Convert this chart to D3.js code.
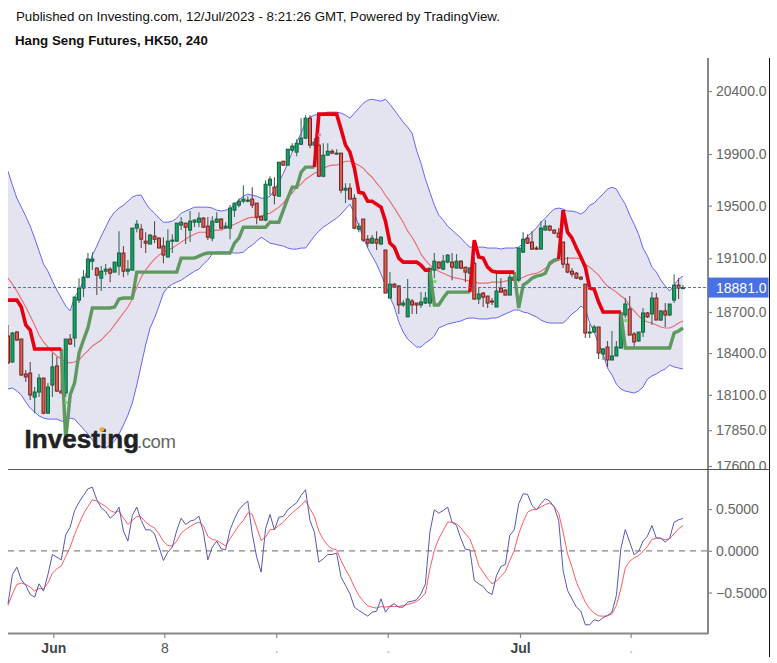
<!DOCTYPE html>
<html><head><meta charset="utf-8">
<style>
html,body{margin:0;padding:0;background:#fff}
svg{display:block}
text{font-family:"Liberation Sans",Arial,sans-serif}
</style>
<script src="https://cdnjs.cloudflare.com/ajax/libs/d3/7.8.5/d3.min.js"></script>
</head><body><svg id="c" width="777" height="663"></svg>
<script>
const _ = null;
const headerLine = "Published on Investing.com, 12/Jul/2023 - 8:21:26 GMT, Powered by TradingView.";
const titleLine = "Hang Seng Futures, HK50, 240";
const priceTicks = [20400,19900,19500,19100,18700,18400,18100,17850,17600];
const oscTicks = [0.5,0,-0.5];
const lastPrice = 18881;
const timeTickBars = [10.2,35.2,60.4,85.5,115.3,140.2];
const timeTickLabels = ["Jun","8",".",".","Jul","."];

const opens = [
18524,18336,18553,18502,18249,18256,18084,18120,18220,17970,
18170,18307,18127,18113,18502,18510,18788,18877,18958,19078,
19026,18951,19003,19018,18996,19041,19139,19003,19011,19328,
19320,19229,19207,19267,19252,19192,19109,19229,19229,19351,
19366,19313,19373,19373,19404,19343,19252,19373,19397,19328,
19328,19465,19504,19534,19534,19550,19519,19419,19389,19657,
19642,19572,19844,19813,19930,19915,19977,20025,20183,19970,
19970,19727,19891,19922,19899,19907,19619,19634,19557,19320,
19397,19244,19214,19244,19207,19162,18803,18906,18892,18752,
18664,18781,18766,18752,18766,18766,19011,19071,19018,19071,
19071,19026,19078,19033,18988,19063,18796,18840,18818,18781,
18737,18877,18862,18825,18958,18936,19146,19252,19222,19177,
19169,19313,19343,19313,19290,19222,19056,19003,18988,18958,
18906,18546,18553,18590,18394,18444,18350,18379,18437,18678,
18722,18539,18488,18553,18693,18686,18803,18641,18708,18678,
18788,18899,18877];
const highs = [
18605,18553,18561,18502,18278,18336,18156,18249,18220,18185,
18401,18372,18336,18502,18539,18810,18951,19011,19139,19146,
19033,19041,19056,19033,19071,19305,19192,19086,19328,19389,
19358,19297,19282,19381,19259,19259,19320,19282,19366,19412,
19366,19458,19397,19450,19412,19412,19419,19450,19404,19373,
19504,19519,19557,19657,19572,19642,19519,19419,19696,19727,
19719,19836,19844,19938,19985,20017,20183,20207,20207,20025,
20033,19985,19985,19938,19938,19907,19673,19673,19588,19366,
19397,19275,19275,19305,19267,19162,18996,18914,18899,18788,
18944,18796,18766,18847,18847,19026,19139,19078,19124,19131,
19139,19131,19086,19033,19033,19109,18884,18847,18818,18803,
18996,18951,18869,19011,18996,19177,19297,19282,19305,19192,
19381,19389,19351,19320,19328,19222,19109,19026,18996,18966,
18906,18612,18605,18590,18437,18488,18561,18488,18693,18803,
18818,18553,18553,18730,18700,18847,18840,18715,18766,18759,
18981,18951,18899];
const lows = [
18321,18329,18488,18235,18192,18063,17970,18084,17963,17970,
18084,18120,18113,18084,18459,18444,18766,18810,18951,19011,
18825,18855,18973,18921,18996,18973,18958,18973,19011,19297,
19177,19139,19207,19214,19177,19063,19109,19139,19222,19313,
19207,19222,19335,19335,19328,19237,19229,19366,19320,19328,
19244,19412,19488,19519,19526,19481,19358,19389,19381,19580,
19511,19572,19813,19813,19915,19883,19970,20017,19946,19798,
19719,19719,19891,19899,19899,19596,19519,19550,19320,19297,
19222,19184,19207,19162,19199,18840,18803,18877,18686,18737,
18664,18686,18686,18730,18759,18737,18951,19018,19011,19063,
18936,19026,19018,18921,18988,18788,18759,18737,18730,18752,
18737,18840,18825,18825,18929,18921,19139,19207,19162,19162,
19169,19313,19305,19282,19259,19026,18988,18958,18944,18936,
18510,18510,18546,18357,18350,18300,18350,18379,18430,18656,
18531,18444,18481,18517,18656,18605,18641,18634,18590,18671,
18766,18796,18869];
const closes = [
18329,18546,18495,18242,18228,18099,18120,18220,17970,18156,
18300,18127,18113,18502,18466,18810,18877,18958,19094,19094,
18973,19003,19018,18988,19071,19139,19003,19018,19328,19358,
19244,19214,19275,19244,19177,19124,19229,19237,19366,19373,
19335,19381,19389,19404,19335,19259,19381,19397,19328,19343,
19481,19519,19534,19550,19542,19504,19412,19389,19665,19704,
19580,19836,19813,19938,19962,19985,20025,20183,19970,19993,
19727,19891,19922,19907,19907,19619,19634,19550,19328,19343,
19237,19214,19252,19214,19259,18840,18906,18884,18752,18766,
18796,18752,18752,18774,18803,19026,19078,19026,19078,19124,
19033,19078,19026,18996,19026,18796,18833,18810,18766,18774,
18855,18847,18825,18958,18936,19177,19244,19214,19169,19169,
19328,19343,19313,19290,19259,19056,18996,18981,18951,18944,
18546,18553,18590,18401,18430,18350,18379,18444,18693,18759,
18531,18481,18553,18693,18664,18803,18641,18708,18678,18759,
18899,18877,18881];

const bandUpper = [
19766,19657,19557,19488,19419,19343,19252,19154,19056,19003,
18929,18862,18803,18744,18708,18810,18862,18929,19026,19124,
19192,19267,19335,19404,19450,19481,19504,19534,19565,19580,
19580,19519,19473,19442,19404,19373,19373,19381,19404,19442,
19458,19473,19488,19488,19488,19488,19481,19465,19458,19465,
19473,19511,19542,19572,19588,19580,19572,19557,19557,19572,
19619,19680,19750,19828,19915,19993,20064,20151,20191,20207,
20215,20223,20231,20231,20231,20223,20207,20183,20223,20262,
20302,20326,20334,20326,20318,20334,20294,20247,20199,20151,
20112,20064,19930,19828,19704,19603,19504,19427,19389,19343,
19313,19282,19252,19214,19184,19184,19184,19184,19177,19177,
19177,19169,19177,19177,19177,19184,19214,19267,19297,19328,
19373,19404,19442,19473,19481,19473,19458,19458,19450,19435,
19458,19504,19519,19557,19588,19627,19642,19627,19565,19511,
19427,19358,19282,19177,19116,19033,18996,18936,18892,18855,
18899,18944,18966];
const bandLower = [
18142,18149,18127,18099,18049,18006,17978,17950,17935,17928,
17928,17928,17914,17914,17935,17928,17893,17858,17823,17781,
17746,17732,17725,17746,17774,17823,17886,17956,18042,18170,
18314,18459,18583,18656,18744,18840,18884,18906,18921,18936,
18958,18981,19003,19018,19056,19086,19131,19146,19146,19146,
19146,19139,19139,19146,19177,19199,19229,19259,19237,19214,
19207,19199,19192,19177,19169,19169,19177,19177,19222,19267,
19305,19335,19358,19381,19404,19435,19473,19511,19442,19343,
19259,19177,19116,19056,18981,18899,18810,18737,18627,18553,
18502,18473,18444,18444,18473,18495,18524,18583,18597,18612,
18619,18627,18634,18649,18656,18656,18649,18649,18649,18656,
18656,18671,18686,18700,18715,18715,18700,18693,18678,18664,
18641,18627,18619,18619,18619,18619,18649,18686,18708,18744,
18722,18619,18553,18466,18394,18292,18242,18177,18142,18127,
18120,18113,18127,18156,18213,18235,18249,18271,18285,18314,
18300,18292,18285];
const bandMiddle = [
18951,18906,18855,18796,18737,18671,18605,18531,18481,18444,
18408,18379,18357,18336,18329,18336,18350,18387,18416,18452,
18473,18495,18531,18561,18605,18649,18693,18737,18796,18884,
18958,19011,19056,19094,19124,19146,19162,19177,19199,19222,
19244,19267,19282,19297,19297,19297,19305,19313,19313,19328,
19343,19358,19373,19389,19404,19412,19404,19419,19435,19442,
19465,19488,19519,19565,19596,19642,19665,19704,19727,19750,
19766,19789,19805,19813,19813,19828,19844,19844,19828,19813,
19789,19750,19719,19673,19634,19580,19534,19481,19427,19373,
19305,19259,19199,19131,19086,19048,19026,19003,18988,18973,
18958,18951,18944,18936,18929,18921,18914,18914,18914,18921,
18921,18921,18929,18936,18936,18944,18958,18973,18981,18988,
19003,19026,19048,19071,19086,19094,19101,19101,19101,19094,
19056,19033,19003,18973,18929,18892,18869,18847,18818,18796,
18744,18708,18671,18641,18627,18619,18605,18590,18583,18583,
18597,18619,18634];

const stopDown = [
18788,18788,18788,18737,18605,18568,18430,18430,18430,18430,18430,18430,18430,
_,_,_,_,_,_,_,_,_,_,_,_,_,_,_,_,_,_,_,_,_,_,_,_,_,_,_,_,_,_,_,_,_,_,_,_,_,_,_,_,_,_,_,_,_,_,_,_,_,_,_,_,_,_,_,_,
19798,20215,20215,20215,20215,20215,20096,19970,19915,19789,19603,19596,19534,19534,19511,19488,19381,19214,19184,19101,19071,19071,19071,19071,19048,19011,19011,
_,_,_,_,_,_,_,_,
18847,19237,19109,19101,19033,19003,18996,18996,18996,18996,18996,
_,_,_,_,_,_,_,_,_,
19094,19465,19297,19252,19177,19109,19033,18877,18869,18774,18700,18700,18700,18700,18700,
_,_,_,_,_,_,_,_,_,_,_,_,_,_];
const stopUp = [
_,_,_,_,_,_,_,_,_,_,_,_,
18430,17781,18099,18185,18401,18495,18583,18730,18730,18730,18730,18730,18737,18796,18803,18803,18803,18996,
18996,18996,18996,18996,18996,18996,18996,18996,18996,19101,19101,19101,19101,19116,19131,19139,19139,19139,19139,19139,19139,
19214,19252,19335,19335,19335,19335,19335,19335,19373,19373,19373,19465,19557,19642,19642,19758,19798,19798,19798,
_,_,_,_,_,_,_,_,_,_,_,_,_,_,_,_,_,_,_,_,_,_,_,_,_,
19011,18752,18752,18803,18847,18847,18847,18847,18847,18847,
_,_,_,_,_,_,_,_,_,
18996,18730,18899,18921,18951,18966,18973,18988,19063,19086,19094,
_,_,_,_,_,_,_,_,_,_,_,_,_,
18700,18437,18437,18437,18437,18437,18437,18437,18437,18437,18437,18437,18546,18561,18583];
const signalBars = [13,96,139,70];
const signalPrices = [18049,18929,18641,20056];
const signalColors = ["#66e066","#66e066","#66e066","#f08080"];

const oscFast = [
-.635,-.283,-.196,-.347,-.415,-.523,-.555,-.395,-.483,-.283,
-.044,-.076,-.108,.192,.283,.483,.583,.663,.743,.762,
.611,.515,.471,.391,.435,.523,.236,.116,.423,.523,
.363,.251,.251,.204,.044,-.116,-.016,.044,.244,.391,
.315,.355,.371,.415,.224,-.108,.044,.116,.024,.012,
.251,.383,.491,.551,.595,.204,-.076,-.255,.263,.435,
.251,.403,.411,.491,.535,.575,.663,.731,.363,.224,
-.136,-.096,-.044,-.044,-.028,-.315,-.415,-.515,-.675,-.715,
-.747,-.782,-.735,-.723,-.575,-.735,-.663,
-.635,-.675,-.675,-.615,-.603,-.587,-.515,-.395,.224,.491,.451,.483,
.523,.343,.303,.144,.016,.012,-.355,-.395,-.427,-.495,-.523,-.295,-.188,-.164,
.184,.251,.563,.683,.675,.543,.491,.563,.623,.595,.523,.363,-.236,-.475,-.575,
-.675,-.723,-.886,-.886,-.826,-.842,-.802,-.774,-.735,-.535,.024,.255,.104,
-.048,-.008,.116,.176,.303,.152,.152,.104,.152,.343,.371,.387];
const oscSlow = [
-.655,-.515,-.403,-.387,-.403,-.435,-.483,-.451,-.455,-.387,
-.267,-.216,-.180,-.068,.044,.196,.323,.443,.531,.611,
.595,.563,.531,.483,.459,.475,.395,.315,.363,.411,
.403,.343,.303,.275,.204,.112,.064,.056,.116,.212,
.255,.291,.323,.343,.303,.172,.136,.124,.092,.060,
.144,.224,.303,.363,.455,.435,.283,.124,.164,.251,
.259,.303,.343,.403,.455,.499,.543,.603,.503,.411,
.236,.136,.064,.024,.012,-.116,-.224,-.315,-.435,-.535,
-.603,-.659,-.675,-.687,-.667,-.675,-.667,
-.667,-.667,-.655,-.643,-.627,-.607,-.567,-.507,-.216,.004,.144,.244,
.343,.343,.323,.275,.204,.144,.004,-.176,-.255,-.335,-.395,-.363,-.307,-.248,
-.116,.004,.204,.343,.463,.491,.495,.523,.555,.571,.531,.451,.224,-.036,-.196,
-.375,-.495,-.615,-.695,-.747,-.779,-.783,-.779,-.755,-.655,-.455,-.204,-.124,
-.084,-.056,-.008,.052,.136,.152,.148,.132,.144,.204,.263,.303];

const svg = d3.select("#c");
const barIndex = d3.range(opens.length);
const x = d3.scaleLinear().domain([0, 152]).range([8, 683]);
const y = d3.scaleLog().domain([17600, 20400]).range([466, 91]);
const yo = d3.scaleLinear().domain([-1, 1]).range([634.3, 467.3]);

const defs = svg.append("defs");
defs.append("clipPath").attr("id","plot").append("rect").attr("x",8).attr("y",58).attr("width",700).attr("height",411);
defs.append("clipPath").attr("id","axisclipG").append("rect").attr("x",0).attr("y",58).attr("width",61).attr("height",411);
const plot = svg.append("g").attr("clip-path","url(#plot)");

// band fill and envelope
plot.append("path").datum(barIndex)
  .attr("d", d3.area().x(i=>x(i)).y0(i=>y(bandLower[i])).y1(i=>y(bandUpper[i])))
  .attr("fill","#e3e4f0");
[bandUpper, bandLower].forEach(arr=>{
  plot.append("path").datum(barIndex)
    .attr("d", d3.line().x(i=>x(i)).y(i=>y(arr[i])))
    .attr("fill","none").attr("stroke","#6565f5").attr("stroke-width",1);
});
plot.append("path").datum(barIndex)
  .attr("d", d3.line().x(i=>x(i)).y(i=>y(bandMiddle[i])))
  .attr("fill","none").attr("stroke","#ec6a70").attr("stroke-width",1.1);

// candles
const candle = plot.append("g").selectAll("g").data(barIndex).join("g");
candle.append("line")
  .attr("x1",i=>x(i)).attr("x2",i=>x(i))
  .attr("y1",i=>y(highs[i])).attr("y2",i=>y(lows[i]))
  .attr("stroke",i=>closes[i]>=opens[i]?"#3a6f58":"#6a4848").attr("stroke-width",1.1);
candle.append("rect")
  .attr("x",i=>x(i)-1.5).attr("width",3)
  .attr("y",i=>y(Math.max(opens[i],closes[i])))
  .attr("height",i=>Math.max(1,Math.abs(y(opens[i])-y(closes[i]))))
  .attr("fill",i=>closes[i]>=opens[i]?"#0aa864":"#e2604f")
  .attr("stroke",i=>closes[i]>=opens[i]?"#1d5a3f":"#6e2222").attr("stroke-width",1);

// trailing stop
const stopLine = arr => d3.line().defined(i=>arr[i]!==null).x(i=>x(i)).y(i=>y(arr[i]));
plot.append("path").datum(barIndex).attr("d",stopLine(stopUp))
  .attr("fill","none").attr("stroke","#5f995f").attr("stroke-width",3.4).attr("stroke-linejoin","miter");
plot.append("path").datum(barIndex).attr("d",stopLine(stopDown))
  .attr("fill","none").attr("stroke","#e60012").attr("stroke-width",3.6).attr("stroke-linejoin","miter");
plot.append("g").selectAll("rect").data(signalBars).join("rect")
  .attr("x",b=>x(b)-1).attr("y",(b,k)=>y(signalPrices[k])-1)
  .attr("width",3).attr("height",3).attr("fill",(b,k)=>signalColors[k]);

// last-price line
plot.append("line").attr("x1",8).attr("x2",708).attr("y1",y(lastPrice)).attr("y2",y(lastPrice))
  .attr("stroke","#4a68e0").attr("stroke-width",1).attr("stroke-dasharray","3,2");

// logo
const logo = svg.append("g");
logo.append("text").attr("x",24.5).attr("y",448).attr("font-size",26).attr("font-weight","bold")
  .attr("fill","#222").attr("stroke","#222").attr("stroke-width",0.5).style("letter-spacing","0.05px").text("Investing");
logo.append("text").attr("x",137).attr("y",448).attr("font-size",18.5).attr("fill","#666").style("letter-spacing","-0.4px").text(".com");
logo.append("ellipse").attr("cx",102).attr("cy",429.5).attr("rx",2.6).attr("ry",2.2).attr("fill","#f5a623");

// oscillator
svg.append("line").attr("x1",8).attr("x2",708).attr("y1",yo(0)).attr("y2",yo(0))
  .attr("stroke","#888").attr("stroke-width",1.2).attr("stroke-dasharray","6,5");
[[oscSlow,"#ff5a5f"],[oscFast,"#5858b8"]].forEach(([arr,col])=>{
  svg.append("path").datum(barIndex)
    .attr("d", d3.line().x(i=>x(i)).y(i=>yo(arr[i])))
    .attr("fill","none").attr("stroke",col).attr("stroke-width",1);
});

// axes
const styleAxis = g => {
  g.select(".domain").remove();
  g.selectAll(".tick line").attr("stroke","#888").attr("stroke-width",1.2);
  g.selectAll(".tick text").attr("fill","#666").style("font-family",'"Liberation Sans",Arial,sans-serif').style("font-size","14px");
};
svg.append("g").attr("transform","translate(708,0)").attr("clip-path","url(#axisclipG)")
  .call(d3.axisRight(y).tickValues(priceTicks).tickFormat(d3.format(".1f")).tickSize(4).tickPadding(4)).call(styleAxis);
svg.append("g").attr("transform","translate(708,0)")
  .call(d3.axisRight(yo).tickValues(oscTicks).tickFormat(d3.format(".4f")).tickSize(4).tickPadding(4)).call(styleAxis);
const timeAxis = svg.append("g").attr("transform","translate(0,634)")
  .call(d3.axisBottom(x).tickValues(timeTickBars).tickFormat((d,k)=>timeTickLabels[k]).tickSize(4).tickPadding(5)).call(styleAxis);
timeAxis.selectAll(".tick text")
  .attr("fill",(d,k)=>timeTickLabels[k]==="8"?"#555":(timeTickLabels[k]==="."?"#aaa":"#444"))
  .style("font-weight",(d,k)=>/^[A-Z]/.test(timeTickLabels[k])?"bold":"normal");

// frame lines
svg.append("line").attr("x1",708).attr("x2",708).attr("y1",58).attr("y2",634).attr("stroke","#888").attr("stroke-width",2);
svg.append("line").attr("x1",8).attr("x2",708).attr("y1",633.5).attr("y2",633.5).attr("stroke","#888").attr("stroke-width",2);
svg.append("line").attr("x1",8).attr("x2",769).attr("y1",469.5).attr("y2",469.5).attr("stroke","#555").attr("stroke-width",1.2);
svg.append("line").attr("x1",769.5).attr("x2",769.5).attr("y1",58).attr("y2",657).attr("stroke","#111").attr("stroke-width",1);

// last price tag
svg.append("rect").attr("x",708).attr("y",y(lastPrice)-10).attr("width",60.5).attr("height",20).attr("fill","#4a70e6");
svg.append("text").attr("x",716).attr("y",y(lastPrice)+5).attr("font-size",14).attr("fill","#fff").text(d3.format(".1f")(lastPrice));

// header
svg.append("text").attr("x",16).attr("y",21).attr("font-size",13.3).attr("fill","#111").text(headerLine);
svg.append("text").attr("x",15).attr("y",45).attr("font-size",13.3).attr("font-weight","bold").attr("fill","#111").text(titleLine);
</script></body></html>
